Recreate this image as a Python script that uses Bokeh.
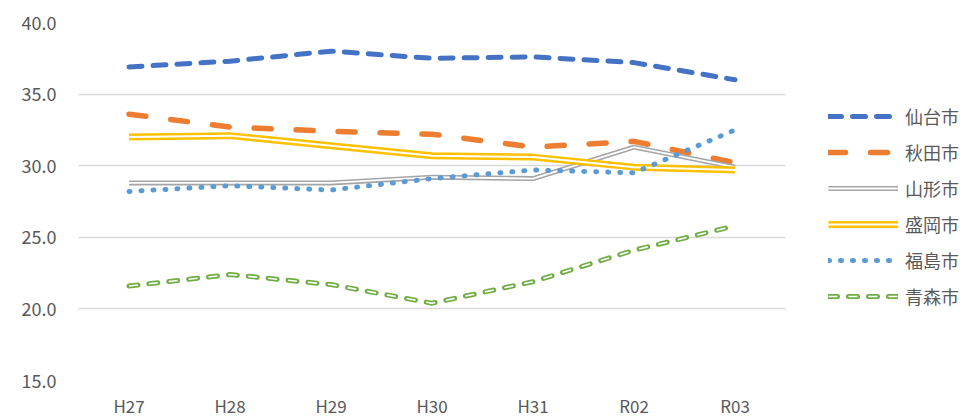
from bokeh.plotting import figure
from bokeh.models import Legend, LegendItem, FixedTicker, Range1d
from bokeh.embed import file_html
from bokeh.resources import INLINE

years = ["H27", "H28", "H29", "H30", "H31", "R02", "R03"]
sendai = [36.9, 37.3, 38.0, 37.5, 37.6, 37.2, 36.0]
akita = [33.6, 32.7, 32.4, 32.2, 31.3, 31.7, 30.2]
yamagata = [28.8, 28.8, 28.8, 29.2, 29.1, 31.3, 29.9]
morioka = [32.0, 32.1, 31.4, 30.7, 30.6, 29.9, 29.7]
fukushima = [28.2, 28.6, 28.3, 29.1, 29.7, 29.5, 32.5]
aomori = [21.6, 22.4, 21.7, 20.4, 21.9, 24.1, 25.8]
y_ticks = [15, 20, 25, 30, 35, 40]
y_labels = ["15.0", "20.0", "25.0", "30.0", "35.0", "40.0"]

FONT = "Noto Sans CJK JP"
TXT = "#595959"

p = figure(x_range=years, y_range=Range1d(15, 40), width=965, height=416,
           output_backend="svg", toolbar_location=None,
           min_border_left=78, min_border_top=22, min_border_bottom=36, min_border_right=180)
p.frame_width = 707
p.frame_height = 358
p.outline_line_color = None
p.background_fill_color = "white"
p.border_fill_color = "white"

p.xgrid.grid_line_color = None
p.ygrid.grid_line_color = "#d9d9d9"
p.ygrid.grid_line_width = 1.3
p.yaxis.ticker = FixedTicker(ticks=y_ticks)
p.yaxis.major_label_overrides = {t: l for t, l in zip(y_ticks, y_labels)}
for ax in (p.xaxis, p.yaxis):
    ax.axis_line_color = None
    ax.major_tick_line_color = None
    ax.minor_tick_line_color = None
    ax.major_label_text_font = FONT
    ax.major_label_text_font_size = "18px"
    ax.major_label_text_color = TXT
p.xaxis.major_label_text_font_size = "17px"
p.yaxis.major_label_standoff = 16
p.xaxis.major_label_standoff = 6

items = []
r = p.line(years, sendai, line_color="#4472c4", line_width=5, line_dash="13 11", line_cap="round")
items.append(LegendItem(label="仙台市", renderers=[r]))
r = p.line(years, akita, line_color="#ed7d31", line_width=5.5, line_dash="17 25", line_cap="round")
items.append(LegendItem(label="秋田市", renderers=[r]))
r1 = p.line(years, yamagata, line_color="#a5a5a5", line_width=5)
r2 = p.line(years, yamagata, line_color="white", line_width=1.8)
items.append(LegendItem(label="山形市", renderers=[r1, r2]))
r1 = p.line(years, morioka, line_color="#ffc000", line_width=7)
r2 = p.line(years, morioka, line_color="white", line_width=2)
items.append(LegendItem(label="盛岡市", renderers=[r1, r2]))
r = p.line(years, fukushima, line_color="#5b9bd5", line_width=5, line_dash="1 11", line_cap="round")
items.append(LegendItem(label="福島市", renderers=[r]))
r1 = p.line(years, aomori, line_color="#70ad47", line_width=5, line_dash="9 11", line_cap="round")
r2 = p.line(years, aomori, line_color="white", line_width=1.6, line_dash="9 11")
items.append(LegendItem(label="青森市", renderers=[r1, r2]))

legend = Legend(items=items, location=(43, 71), orientation="vertical",
                glyph_width=70, glyph_height=20, label_height=20, spacing=10,
                label_standoff=7, margin=0, padding=0, border_line_color=None,
                label_text_font=FONT, label_text_font_size="18px", label_text_color=TXT,
                background_fill_alpha=0)
p.add_layout(legend, "right")

open("out.html", "w").write(file_html(p, INLINE))
